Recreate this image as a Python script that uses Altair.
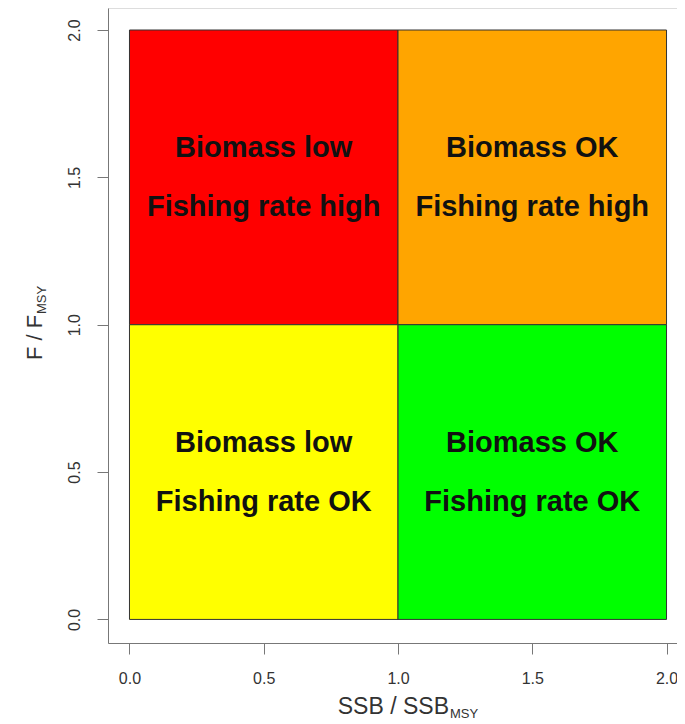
import altair as alt
import pandas as pd

# Quadrants
quad_x1 = [0, 1, 0, 1]
quad_x2 = [1, 2, 1, 2]
quad_y1 = [1, 1, 0, 0]
quad_y2 = [2, 2, 1, 1]
quad_color = ["#FF0000", "#FFA500", "#FFFF00", "#00FF00"]

# Labels inside quadrants
lab_x = [0.5, 0.5, 1.5, 1.5, 0.5, 0.5, 1.5, 1.5]
lab_y = [1.6, 1.4, 1.6, 1.4, 0.6, 0.4, 0.6, 0.4]
lab_text = ["Biomass low", "Fishing rate high", "Biomass OK", "Fishing rate high",
            "Biomass low", "Fishing rate OK", "Biomass OK", "Fishing rate OK"]

tick_vals = [0, 0.5, 1.0, 1.5, 2.0]

quads = pd.DataFrame({"x1": quad_x1, "x2": quad_x2, "y1": quad_y1, "y2": quad_y2, "c": quad_color})
labels = pd.DataFrame({"x": lab_x, "y": lab_y, "t": lab_text})

W, H = 569, 635
xs = alt.Scale(domain=[-0.08, 2.039], nice=False, zero=False)
ys = alt.Scale(domain=[-0.08, 2.0747], nice=False, zero=False)

axis_common = dict(
    values=tick_vals, format=".1f", grid=False, title=None,
    domainColor="#777777", tickColor="#777777", tickSize=11,
    labelFont="Liberation Sans", labelFontSize=16, labelColor="#333333",
)

rects = alt.Chart(quads).mark_rect(stroke="#333333", strokeWidth=1).encode(
    x=alt.X("x1:Q", scale=xs, axis=alt.Axis(orient="bottom", labelPadding=16, labelBaseline="top", **axis_common)),
    x2="x2:Q",
    y=alt.Y("y1:Q", scale=ys, axis=alt.Axis(orient="left", labelAngle=-90, labelAlign="center",
                                             labelBaseline="alphabetic", labelPadding=18, **axis_common)),
    y2="y2:Q",
    color=alt.Color("c:N", scale=None),
)

texts = alt.Chart(labels).mark_text(font="Liberation Sans", fontWeight="bold", fontSize=29,
                                     color="#111111", baseline="middle", align="center").encode(
    x=alt.X("x:Q", scale=xs), y=alt.Y("y:Q", scale=ys), text="t:N")

xt_main = alt.Chart(pd.DataFrame({"t": ["SSB / SSB"]})).mark_text(
    font="Liberation Sans", fontSize=23, color="#333333", align="right", baseline="alphabetic").encode(
    x=alt.value(341), y=alt.value(706), text="t:N")
xt_sub = alt.Chart(pd.DataFrame({"t": ["MSY"]})).mark_text(
    font="Liberation Sans", fontSize=13, color="#333333", align="left", baseline="alphabetic").encode(
    x=alt.value(342), y=alt.value(710), text="t:N")

yt_main = alt.Chart(pd.DataFrame({"t": ["F / F"]})).mark_text(
    font="Liberation Sans", fontSize=22, color="#333333", align="left", baseline="alphabetic", angle=270).encode(
    x=alt.value(-66), y=alt.value(352), text="t:N")
yt_sub = alt.Chart(pd.DataFrame({"t": ["MSY"]})).mark_text(
    font="Liberation Sans", fontSize=13, color="#333333", align="left", baseline="alphabetic", angle=270).encode(
    x=alt.value(-62), y=alt.value(306), text="t:N")

chart = alt.layer(rects, texts, xt_main, xt_sub, yt_main, yt_sub).properties(
    width=W, height=H,
    autosize=alt.AutoSizeParams(type="none"),
    padding={"left": 100, "top": 0, "right": 0, "bottom": 84},
).configure_view(stroke=None).configure(background="white")

chart.save("out.html", embed_options={"renderer": "svg", "actions": False})
